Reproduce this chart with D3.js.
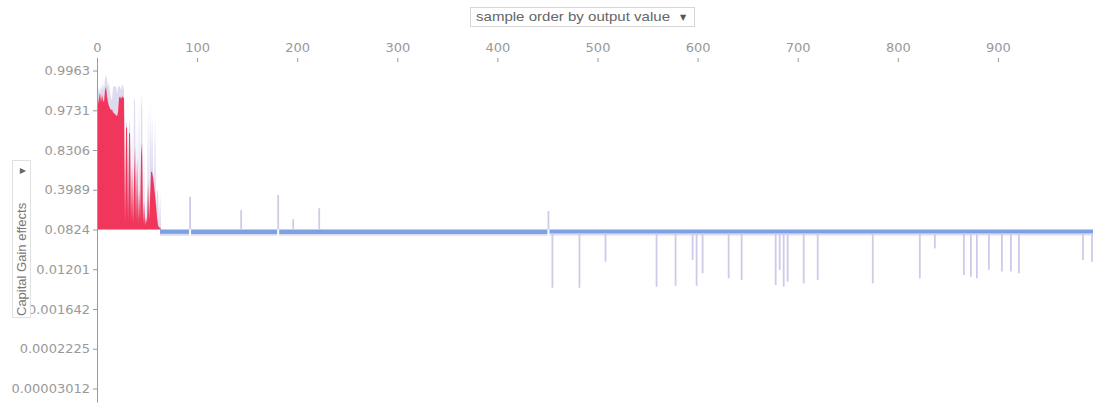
<!DOCTYPE html>
<html><head><meta charset="utf-8">
<script src="https://cdn.jsdelivr.net/npm/d3@7"></script>
<style>
body{margin:0;background:#fff;}
svg{display:block;}
</style>
</head><body><svg id="chart" width="1115" height="413"></svg>
<script>
// ---------- data ----------
const xTicks = [0, 100, 200, 300, 400, 500, 600, 700, 800, 900];
const yTickEffects = [-8, -6, -4, -2, 0, 2, 4, 6, 8];
const yTickLabels = ["0.00003012", "0.0002225", "0.001642", "0.01201", "0.0824", "0.3989", "0.8306", "0.9731", "0.9963"];
const sortLabel = "sample order by output value";
const featureLabel = "Capital Gain effects";

// Capital Gain effect (log-odds, relative to base) of samples 0..64, solid red part
const redTop = [6.2,6.3,6.6,6.9,6.4,6.8,6.5,6.4,7.0,7.2,6.7,6.4,6.2,6.1,6.0,6.05,5.9,5.85,5.8,5.75,5.7,5.9,6.6,6.7,6.55,6.7,6.65,6.6,
  0.3,5.1,5.2,0.4,4.8,4.9,0.5,3.2,0.3,2.5,4.2,0.4,3.6,0.3,2.0,0.5,3.7,4.4,0.3,1.4,0.2,0.6,0.3,2.4,0.5,1.6,2.9,2.9,2.6,2.2,1.7,1.2,0.6,0.2,0.1,0.1,0];
// light envelope above the red part, samples 0..64
const envelopeTop = [6.5,6.9,7.2,6.8,7.3,7.0,7.4,7.0,7.6,7.8,7.5,7.2,7.4,6.9,6.6,6.5,7.2,7.2,7.2,7.2,6.8,7.2,7.2,7.2,7.0,7.25,7.3,7.0,
  0.3,5.3,5.5,0.4,5.5,5.3,0.5,5.6,0.3,6.7,6.4,0.4,5.4,0.3,7.0,0.5,6.0,6.9,0.3,4.0,0.2,1.7,0.3,6.3,0.5,6.4,3.0,5.8,2.9,2.5,5.7,1.3,2.0,1.9,0.1,1.9,0];
// negative band: [first sample, last sample, effect]
const bandSegments = [[63, 92, -0.22], [94, 180, -0.22], [182, 450, -0.22], [452, 995, -0.2]];
// isolated positive spikes in the blue region: [sample, effect]
const upSpikes = [[93, 1.65], [144, 0.98], [181, 1.74], [196, 0.52], [222, 1.07], [451, 0.93]];
// isolated negative spikes: [sample, effect]
const downSpikes = [[455,-2.93],[482,-2.93],[508,-1.62],[559,-2.88],[578,-2.83],[595,-1.53],[599,-2.83],[605,-2.2],
  [631,-2.46],[644,-2.54],[678,-2.79],[682,-2.03],[686,-2.88],[690,-2.62],[706,-2.71],[720,-2.54],[775,-2.71],
  [822,-2.46],[837,-0.95],[866,-2.29],[873,-2.38],[879,-2.46],[891,-2.03],[904,-2.11],[913,-2.11],[921,-2.2],
  [985,-1.53],[994,-1.62]];

// ---------- drawing ----------
const svg = d3.select("#chart");
const RED = "rgb(240,54,90)", BLUE = "rgb(124,160,228)", LAV = "rgb(222,218,240)", SPIKE = "rgb(208,202,233)";
const x = d3.scaleLinear().domain([0, 1000]).range([97, 1098]);
const y = d3.scaleLinear().domain([-8.68, 8.63]).range([402, 58]);

const area = d3.area().x(d => x(d[0])).y0(d => y(d[2] === undefined ? 0 : d[2])).y1(d => y(d[1]));

// envelope + red region
svg.append("path").datum(envelopeTop.map((v, i) => [i, v])).attr("d", area).attr("fill", LAV);
svg.append("path").datum(redTop.map((v, i) => [i, v])).attr("d", area).attr("fill", RED);

// blue band with soft jagged lower edge
bandSegments.forEach(s => {
  svg.append("path").datum([[s[0], s[2] - 0.1, s[2]], [s[1], s[2] - 0.1, s[2]]]).attr("d", area).attr("fill", SPIKE).attr("opacity", 0.7);
  svg.append("path").datum([[s[0], s[2]], [s[1], s[2]]]).attr("d", area).attr("fill", BLUE);
});

// spikes
svg.append("g").selectAll("line").data(upSpikes).join("line")
  .attr("x1", d => x(d[0])).attr("x2", d => x(d[0]))
  .attr("y1", y(0)).attr("y2", d => y(d[1]))
  .attr("stroke", SPIKE).attr("stroke-width", 1.8);
svg.append("g").selectAll("line").data(downSpikes).join("line")
  .attr("x1", d => x(d[0])).attr("x2", d => x(d[0]))
  .attr("y1", y(-0.2)).attr("y2", d => y(d[1]))
  .attr("stroke", SPIKE).attr("stroke-width", 1.8);

// axes
const AX = "#9a9a9a";
const xAxis = svg.append("g").attr("transform", "translate(0,62)")
  .call(d3.axisTop(x).tickValues(xTicks).tickSize(4).tickSizeOuter(0).tickPadding(6));
xAxis.select(".domain").remove();
const yAxis = svg.append("g").attr("transform", "translate(97,0)")
  .call(d3.axisLeft(y).tickValues(yTickEffects).tickFormat((d, i) => yTickLabels[i]).tickSize(4).tickSizeOuter(0).tickPadding(3));
[xAxis, yAxis].forEach(g => {
  g.selectAll("text").attr("fill", "#999").style("font-family", "'DejaVu Sans', Verdana, sans-serif").style("font-size", "13px");
  g.selectAll("line").attr("stroke", AX);
  g.select(".domain").attr("stroke", AX);
});

// top selector
const sortBox = svg.append("g");
sortBox.append("rect").attr("x", 470.5).attr("y", 7.5).attr("width", 224).attr("height", 19).attr("fill", "#fff").attr("stroke", "#d6d6d6");
sortBox.append("text").attr("x", 476).attr("y", 21).text(sortLabel)
  .attr("textLength", 194).attr("lengthAdjust", "spacingAndGlyphs")
  .style("font-family", "'Liberation Sans', Arial, sans-serif").style("font-size", "13.5px").attr("fill", "#666");
sortBox.append("text").attr("x", 683).attr("y", 20).attr("text-anchor", "middle").text("▼")
  .style("font-family", "'DejaVu Sans', sans-serif").style("font-size", "8px").attr("fill", "#555");

// left selector (rotated)
const featBox = svg.append("g");
featBox.append("rect").attr("x", 12.5).attr("y", 160.5).attr("width", 18).attr("height", 157).attr("fill", "#fff").attr("stroke", "#e0e0e0");
featBox.append("text").attr("transform", "translate(26,316) rotate(-90)").text(featureLabel)
  .style("font-family", "'Liberation Sans', Arial, sans-serif").style("font-size", "13px").attr("fill", "#777");
featBox.append("text").attr("transform", "translate(24.5,171) rotate(-90)").attr("text-anchor", "middle").text("▼")
  .style("font-family", "'DejaVu Sans', sans-serif").style("font-size", "8px").attr("fill", "#666");
</script>
</body></html>
